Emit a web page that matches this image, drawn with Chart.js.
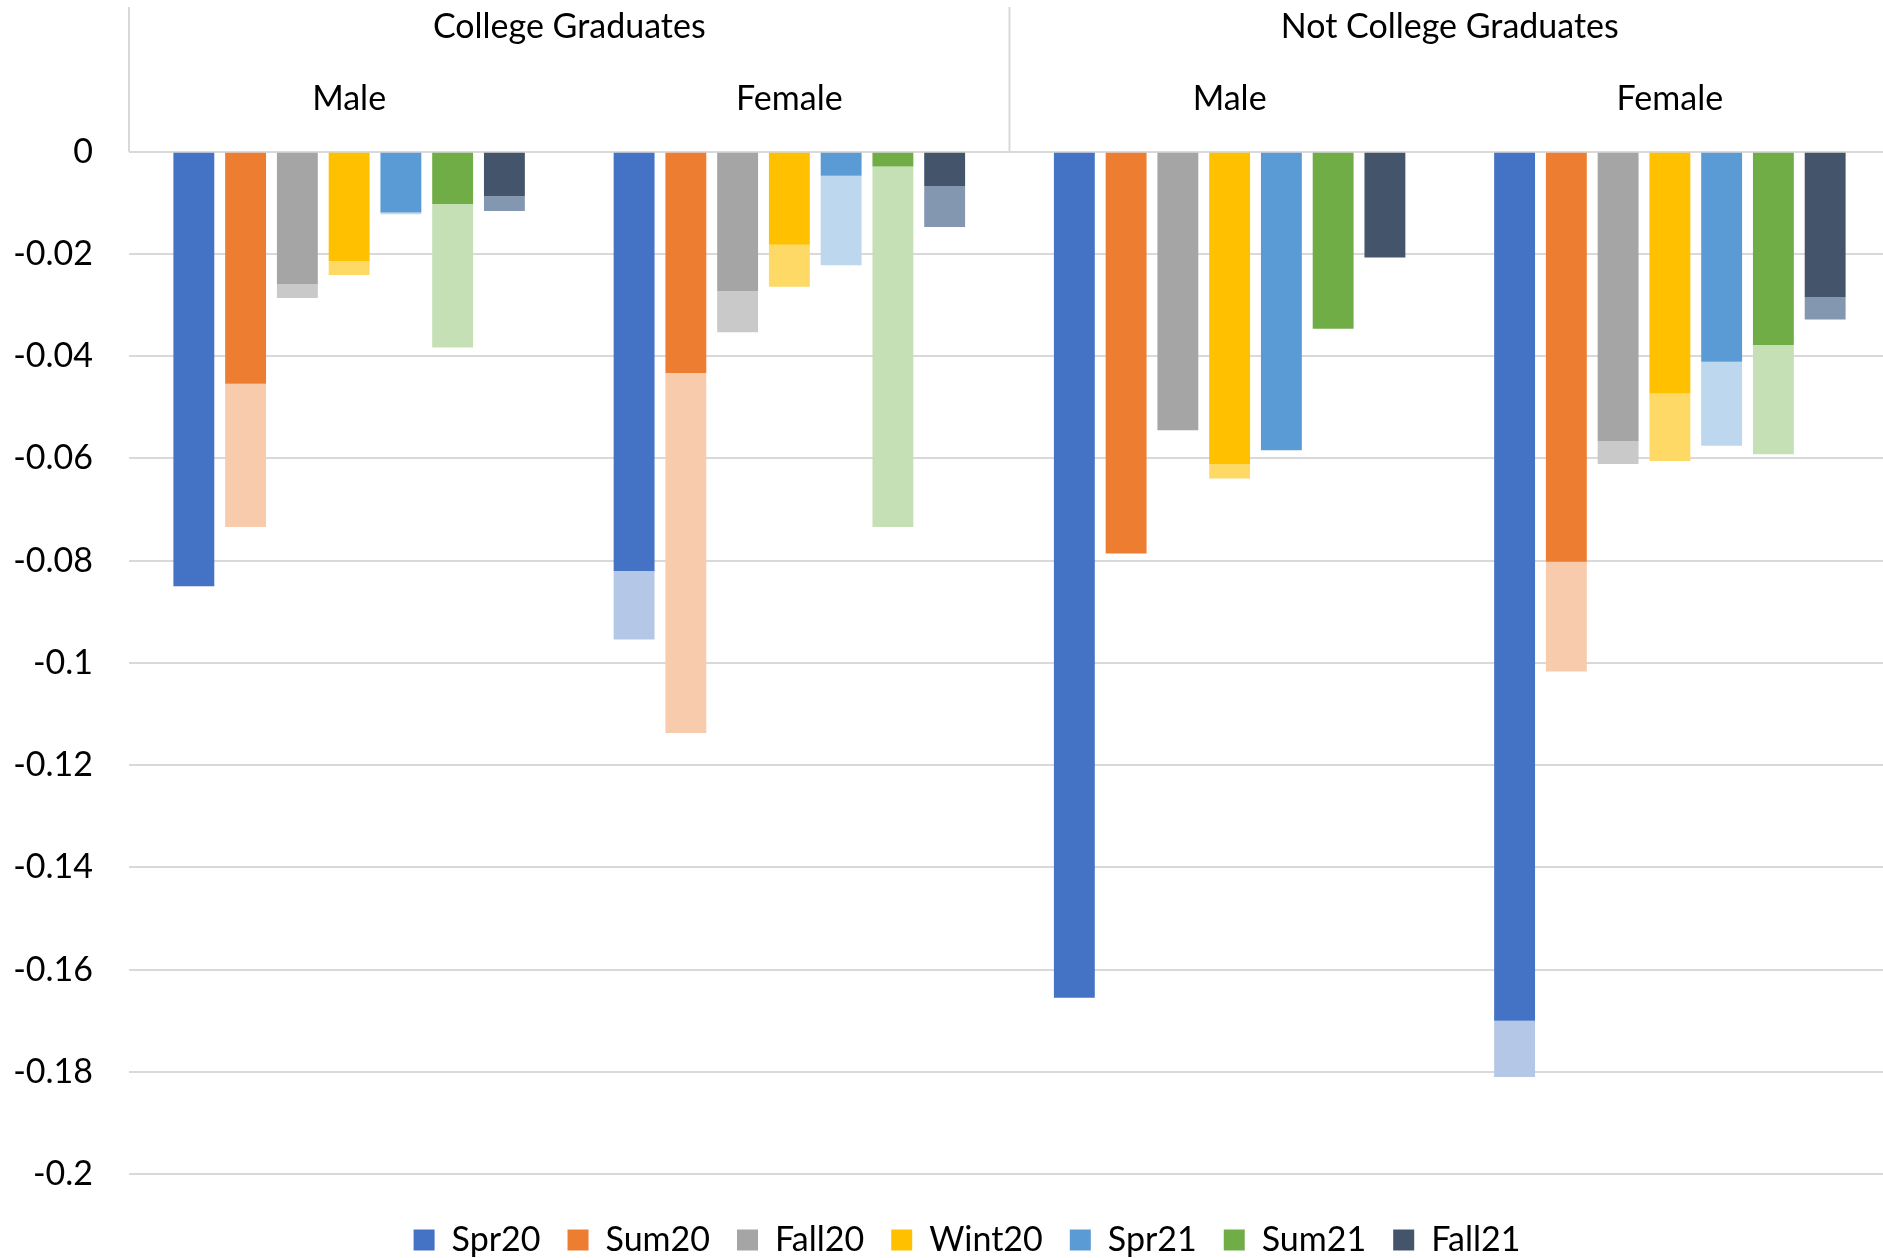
<!DOCTYPE html>
<html>
<head>
<meta charset="utf-8">
<script src="https://cdn.jsdelivr.net/npm/chart.js@4.4.1/dist/chart.umd.min.js"></script>
<style>
  html, body { margin: 0; padding: 0; background: #fff; overflow: hidden; }
  canvas { display: block; }
</style>
</head>
<body>
<canvas id="chart" width="1890" height="1258"></canvas>
<script>
// ── DATOS ─────────────────────────────────────────────
var categories = ['Male', 'Female', 'Male', 'Female'];
var groups     = ['College Graduates', 'Not College Graduates'];
var seriesNames = ['Spr20', 'Sum20', 'Fall20', 'Wint20', 'Spr21', 'Sum21', 'Fall21'];

// dark part of each bar
var spr20  = [-0.0850, -0.0820, -0.1655, -0.1700];
var sum20  = [-0.0454, -0.0433, -0.0786, -0.0802];
var fall20 = [-0.0259, -0.0273, -0.0545, -0.0566];
var wint20 = [-0.0214, -0.0182, -0.0611, -0.0473];
var spr21  = [-0.0119, -0.0047, -0.0584, -0.0411];
var sum21  = [-0.0102, -0.0029, -0.0346, -0.0378];
var fall21 = [-0.0087, -0.0067, -0.0207, -0.0284];

// full depth of each bar (dark + light part)
var spr20Full  = [-0.0850, -0.0954, -0.1655, -0.1810];
var sum20Full  = [-0.0734, -0.1137, -0.0786, -0.1017];
var fall20Full = [-0.0286, -0.0353, -0.0545, -0.0611];
var wint20Full = [-0.0241, -0.0264, -0.0639, -0.0605];
var spr21Full  = [-0.0122, -0.0222, -0.0584, -0.0575];
var sum21Full  = [-0.0383, -0.0734, -0.0346, -0.0592];
var fall21Full = [-0.0116, -0.0147, -0.0207, -0.0328];

var yTicks = [0, -0.02, -0.04, -0.06, -0.08, -0.1, -0.12, -0.14, -0.16, -0.18, -0.2];

(function () {
  'use strict';

  var FONT = 'Lato';
  var SIZE = 34;

  var dark  = ['#4472C4', '#ED7D31', '#A5A5A5', '#FFC000', '#5B9BD5', '#70AD47', '#44546A'];
  var light = ['#B4C7E7', '#F8CBAD', '#C9C9C9', '#FFD966', '#BDD7EE', '#C5E0B4', '#8497B0'];

  var solid = [spr20, sum20, fall20, wint20, spr21, sum21, fall21];
  var full  = [spr20Full, sum20Full, fall20Full, wint20Full, spr21Full, sum21Full, fall21Full];

  // ── DATASETS: parte oscura + extensión clara, misma pila ─
  var datasets = [];
  seriesNames.forEach(function (name, i) {
    var common = { stack: 's' + i, borderWidth: 0, categoryPercentage: 0.823, barPercentage: 0.79 };
    datasets.push(Object.assign({
      label: name,
      data: solid[i],
      backgroundColor: dark[i]
    }, common));
    datasets.push(Object.assign({
      label: name + ' (ext)',
      data: full[i].map(function (v, k) { return v - solid[i][k]; }),
      backgroundColor: light[i]
    }, common));
  });

  // ── CABECERA (grupos + líneas) ────────────────────────
  var headerPlugin = {
    id: 'header',
    afterLayout: function (chart) {
      // legend sits a bit lower and to the right in the original
      var lg = chart.legend;
      lg.left += 22; lg.right += 22;
      lg.top += 22;  lg.bottom += 22;
    },
    afterDraw: function (chart) {
      var ctx = chart.ctx, xs = chart.scales.x, area = chart.chartArea;
      ctx.save();
      ctx.strokeStyle = '#d9d9d9';
      ctx.lineWidth = 2;
      var mid = (xs.getPixelForValue(1) + xs.getPixelForValue(2)) / 2;
      [area.left, mid].forEach(function (x) {
        ctx.beginPath();
        ctx.moveTo(x, 7);
        ctx.lineTo(x, area.top);
        ctx.stroke();
      });
      ctx.fillStyle = '#000';
      ctx.font = SIZE + 'px ' + FONT;
      ctx.textAlign = 'center';
      ctx.textBaseline = 'middle';
      groups.forEach(function (g, i) {
        var x = (xs.getPixelForValue(2 * i) + xs.getPixelForValue(2 * i + 1)) / 2;
        ctx.fillText(g, x, 27);
      });
      ctx.restore();
    }
  };

  Chart.defaults.font.family = FONT;
  Chart.defaults.font.size = SIZE;
  Chart.defaults.color = '#000';

  new Chart(document.getElementById('chart').getContext('2d'), {
    type: 'bar',
    data: { labels: categories, datasets: datasets },
    plugins: [headerPlugin],
    options: {
      responsive: false,
      animation: false,
      devicePixelRatio: 1,
      layout: { padding: { left: 0, right: 0, top: 47, bottom: 13 } },
      plugins: {
        tooltip: { enabled: false },
        legend: {
          position: 'bottom',
          labels: {
            boxWidth: 21,
            boxHeight: 21,
            padding: 27,
            font: { size: SIZE, family: FONT },
            filter: function (item) { return item.datasetIndex % 2 === 0; }
          }
        }
      },
      scales: {
        x: {
          stacked: true,
          position: 'top',
          grid: { display: false, drawTicks: false },
          border: { display: false },
          ticks: { padding: 32, autoSkip: false, maxRotation: 0, font: { size: SIZE } }
        },
        y: {
          stacked: true,
          min: -0.2,
          max: 0,
          afterFit: function (s) { s.width = 129; },
          afterBuildTicks: function (s) { s.ticks = yTicks.map(function (v) { return { value: v }; }); },
          grid: { color: '#d9d9d9', lineWidth: 2, drawTicks: false },
          border: { display: false },
          ticks: {
            padding: 36,
            font: { size: SIZE },
            callback: function (v) { return String(+(+v).toFixed(2)); }
          }
        }
      }
    }
  });
})();
</script>
</body>
</html>
